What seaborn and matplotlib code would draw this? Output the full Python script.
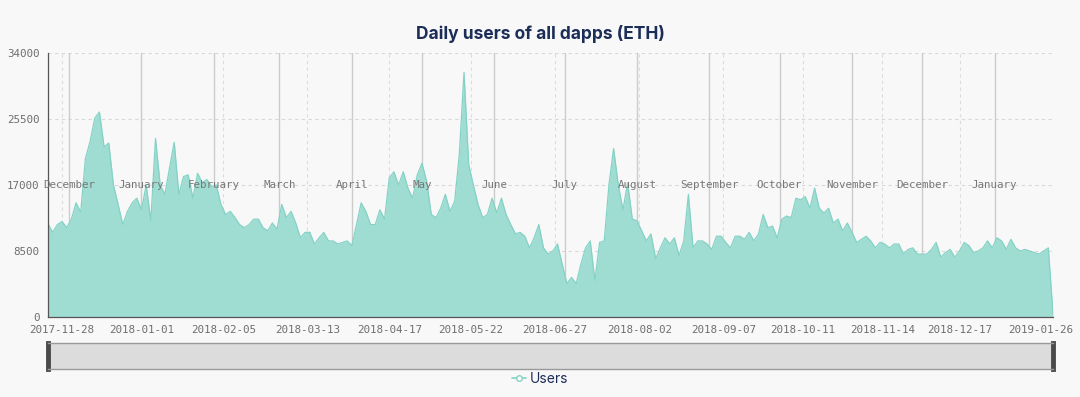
import matplotlib
matplotlib.use("Agg")
import matplotlib.pyplot as plt
import matplotlib.transforms as mtransforms
from matplotlib.lines import Line2D
import seaborn as sns
import pandas as pd

# daily users, one reading every second day from 2017-11-22 to 2019-01-26
start_date = "2017-11-22"
users = [
    12000, 10900, 11900, 12300, 11500, 12600, 14700, 13500, 20400, 22600,
    25600, 26400, 21900, 22400, 17000, 14500, 11900, 13600, 14700, 15300,
    13800, 17000, 12400, 23000, 17000, 15800, 19200, 22500, 15800, 18100,
    18300, 15300, 18500, 17300, 17700, 16800, 17000, 14500, 13200, 13600,
    12800, 11900, 11500, 11900, 12600, 12600, 11500, 11100, 12100, 11300,
    14500, 12800, 13600, 12100, 10200, 10900, 10900, 9400, 10200, 10900,
    9800, 9800, 9400, 9600, 9800, 9200, 11900, 14700, 13600, 11900,
    11900, 13800, 12600, 17900, 18700, 17000, 18700, 16600, 15300, 18300,
    19800, 17500, 13200, 12800, 14000, 15800, 13600, 14900, 21000, 31500,
    19600, 17000, 14500, 12800, 13200, 15300, 13400, 15300, 13200, 11900,
    10700, 10900, 10400, 8900, 10200, 11900, 8900, 8100, 8500, 9400,
    6800, 4300, 5100, 4300, 6800, 8900, 9800, 4700, 9600, 9800,
    17000, 21700, 17000, 13800, 17300, 12600, 12400, 11100, 9800, 10700,
    7500, 8900, 10200, 9400, 10200, 7900, 9800, 15800, 8900, 9800,
    9800, 9400, 8700, 10400, 10400, 9600, 8900, 10400, 10400, 10000,
    10900, 9800, 10700, 13200, 11500, 11700, 10200, 12600, 13000, 12800,
    15300, 15100, 15500, 14000, 16600, 14000, 13400, 14000, 12100, 12600,
    11100, 12100, 10900, 9600, 10000, 10400, 9800, 8900, 9600, 9400,
    8900, 9400, 9400, 8100, 8700, 8900, 8100, 8100, 8100, 8700,
    9600, 7700, 8300, 8700, 7700, 8500, 9600, 9200, 8300, 8500,
    8900, 9800, 8900, 10200, 9800, 8700, 10000, 8900, 8500, 8700,
    8500, 8300, 8100, 8500, 8900, 400,
]
tick_dates = ["2017-11-28", "2018-01-01", "2018-02-05", "2018-03-13", "2018-04-17",
              "2018-05-22", "2018-06-27", "2018-08-02", "2018-09-07", "2018-10-11",
              "2018-11-14", "2018-12-17", "2019-01-26"]
month_starts = ["2017-12-01", "2018-01-01", "2018-02-01", "2018-03-01", "2018-04-01",
                "2018-05-01", "2018-06-01", "2018-07-01", "2018-08-01", "2018-09-01",
                "2018-10-01", "2018-11-01", "2018-12-01", "2019-01-01"]
month_names = ["December", "January", "February", "March", "April", "May", "June",
               "July", "August", "September", "October", "November", "December", "January"]
y_ticks = [0, 8500, 17000, 25500, 34000]

df = pd.DataFrame({"date": pd.date_range(start_date, periods=len(users), freq="2D"),
                   "users": users})

bg = "#f8f8f8"
fill_col = "#9fdcd2"
line_col = "#84d2c6"
grey_txt = "#6e6e6e"
navy = "#1c2d57"
mono = "DejaVu Sans Mono"

sns.set_style("white")
plt.rcParams["font.family"] = ["Inter", "DejaVu Sans"]

fig = plt.figure(figsize=(10.8, 3.97), dpi=100, facecolor=bg)
ax = fig.add_axes([48 / 1080, 80 / 397, 1005 / 1080, 264 / 397])
ax.set_facecolor(bg)

# grid: dashed at ticks, solid at month starts
for y in y_ticks[1:]:
    ax.axhline(y, color="#d8d8d8", lw=0.8, ls=(0, (3, 3)), zorder=0)
for d in pd.to_datetime(tick_dates):
    ax.axvline(d, color="#dcdcdc", lw=0.8, ls=(0, (3, 3)), zorder=0)
for d in pd.to_datetime(month_starts):
    ax.axvline(d, color="#cccccc", lw=1.0, zorder=0.5)

ax.fill_between(df["date"], df["users"], color=fill_col, lw=0, zorder=1)
sns.lineplot(data=df, x="date", y="users", ax=ax, color=line_col, lw=0.9, zorder=2)

for d, name in zip(pd.to_datetime(month_starts), month_names):
    ax.text(d, 17000, name, ha="center", va="center", fontsize=7.8,
            family=mono, color="#777777", zorder=3)

ax.set_xlim(df["date"].iloc[0], df["date"].iloc[-1])
ax.set_ylim(0, 34000)
ax.set_yticks(y_ticks)
ax.set_yticklabels([str(v) for v in y_ticks], family=mono, fontsize=7.8, color=grey_txt)
ax.set_xticks(pd.to_datetime(tick_dates))
ax.set_xticklabels(tick_dates, family=mono, fontsize=7.8, color=grey_txt)
ax.tick_params(axis="both", length=4, width=0.8, color="#555555", pad=2)
ax.set_xlabel("")
ax.set_ylabel("")
# last date label is pulled left so it stays inside the picture
last = ax.get_xticklabels()[-1]
last.set_transform(last.get_transform() +
                   mtransforms.ScaledTranslation(-0.12, 0, fig.dpi_scale_trans))
for side in ["top", "right"]:
    ax.spines[side].set_visible(False)
for side in ["left", "bottom"]:
    ax.spines[side].set_color("#555555")
    ax.spines[side].set_linewidth(0.9)

fig.text(0.5, 1 - 34 / 397, "Daily users of all dapps (ETH)", ha="center", va="center",
         fontsize=12.5, fontweight="bold", color=navy)

# zoom slider bar under the chart
sl = fig.add_axes([48 / 1080, 28 / 397, 1005 / 1080, 26 / 397])
sl.set_facecolor("#dcdcdc")
sl.set_xticks([])
sl.set_yticks([])
for side in ["top", "bottom"]:
    sl.spines[side].set_color("#9a9a9a")
    sl.spines[side].set_linewidth(1.0)
for side in ["left", "right"]:
    sl.spines[side].set_color("#4a4a4a")
    sl.spines[side].set_linewidth(3.5)

handle = Line2D([], [], color=line_col, lw=1.2, marker="o", markersize=4,
                markerfacecolor="white", markeredgecolor=line_col)
fig.legend([handle], ["Users"], loc="center", bbox_to_anchor=(0.5, 18 / 397),
           frameon=False, fontsize=10, labelcolor=navy, handlelength=1.0,
           handletextpad=0.3)

fig.savefig("out.png", dpi=100, facecolor=bg)
